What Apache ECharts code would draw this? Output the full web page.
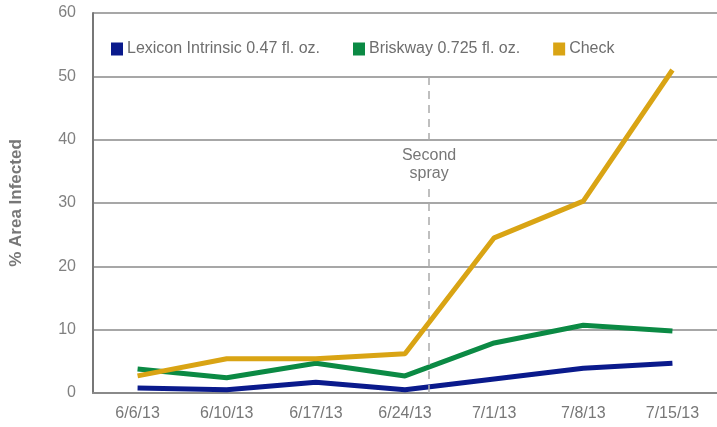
<!DOCTYPE html>
<html>
<head>
<meta charset="utf-8">
<script src="https://cdn.jsdelivr.net/npm/echarts@6/dist/echarts.min.js"></script>
<style>
html,body{margin:0;padding:0;background:#fff;}
#chart{width:717px;height:427px;}
</style>
</head>
<body>
<div id="chart"></div>
<script>
var categories = ['6/6/13', '6/10/13', '6/17/13', '6/24/13', '7/1/13', '7/8/13', '7/15/13'];
var lexicon = [0.8, 0.5, 1.7, 0.5, 2.2, 3.9, 4.7];
var briskway = [3.8, 2.4, 4.7, 2.7, 7.9, 10.7, 9.8];
var check = [2.7, 5.4, 5.4, 6.2, 24.5, 30.3, 51.0];
var seriesNames = ['Lexicon Intrinsic 0.47 fl. oz.', 'Briskway 0.725 fl. oz.', 'Check'];
var yTicks = [0, 10, 20, 30, 40, 50, 60];
// second spray: about 2 days after 6/24 within the 7-day gap to 7/1
var sprayPos = 3.27;
var sprayTop = 50;
var sprayLabelAt = 36;
var sprayLabel = 'Second\nspray';

var colors = ['#0a1a8c', '#0b8a44', '#d9a414'];
var font = 'Liberation Sans, Arial, Helvetica, sans-serif';

var chart = echarts.init(document.getElementById('chart'), null, {renderer: 'canvas'});
chart.setOption({
  animation: false,
  color: colors,
  grid: {left: 92, right: 0, top: 13, bottom: 34, containLabel: false},
  legend: {
    top: 41, left: 111, padding: 0,
    itemWidth: 12, itemHeight: 13, itemGap: 33,
    icon: 'rect',
    textStyle: {color: '#6e6e6e', fontSize: 16, fontFamily: font, padding: [0, 0, 0, -1]},
    data: seriesNames
  },
  xAxis: [{
    type: 'category',
    data: categories,
    boundaryGap: true,
    axisLine: {show: true, lineStyle: {color: '#8a8a8a', width: 2}},
    axisTick: {show: false},
    axisLabel: {color: '#777', fontSize: 16, fontFamily: font, margin: 13}
  }, {
    type: 'value', min: -0.5, max: categories.length - 0.5, show: false
  }],
  yAxis: {
    type: 'value', min: yTicks[0], max: yTicks[yTicks.length - 1], interval: 10,
    name: '% Area Infected', nameLocation: 'middle', nameRotate: 90, nameGap: 68,
    nameTextStyle: {color: '#777', fontSize: 17, fontWeight: 'bold', fontFamily: font},
    axisLine: {show: true, onZero: false, lineStyle: {color: '#777', width: 2}},
    axisTick: {show: false},
    axisLabel: {color: '#808080', fontSize: 16, fontFamily: font, margin: 17},
    splitLine: {show: true, lineStyle: {color: '#8a8a8a', width: 1.5}}
  },
  series: [
    {name: seriesNames[0], type: 'line', data: lexicon, symbol: 'none', lineStyle: {width: 5}, z: 3},
    {name: seriesNames[1], type: 'line', data: briskway, symbol: 'none', lineStyle: {width: 5}, z: 4},
    {name: seriesNames[2], type: 'line', data: check, symbol: 'none', lineStyle: {width: 5}, z: 5},
    {
      name: 'spray', type: 'line', xAxisIndex: 1, data: [], z: 2,
      markLine: {
        silent: true, symbol: 'none',
        lineStyle: {color: '#aaa', type: [8, 6], width: 1.5},
        label: {show: false},
        data: [[{coord: [sprayPos, 0]}, {coord: [sprayPos, sprayTop]}]]
      },
      markPoint: {
        silent: true, symbol: 'rect', symbolSize: 1,
        itemStyle: {color: 'rgba(0,0,0,0)'},
        label: {
          show: true, position: 'inside', formatter: sprayLabel,
          color: '#777', fontSize: 16, fontFamily: font, lineHeight: 18,
          backgroundColor: '#fff', padding: [2, 2], align: 'center'
        },
        data: [{coord: [sprayPos, sprayLabelAt]}]
      }
    }
  ]
});
</script>
</body>
</html>
